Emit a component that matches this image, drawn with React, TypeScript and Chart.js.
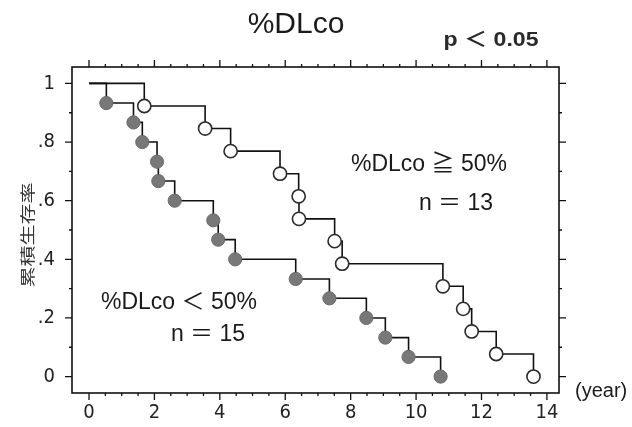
import React, { useEffect, useRef } from "react";
import { Chart, registerables } from "chart.js";

Chart.register(...registerables);

// ---- data ----
const HIGH_TIMES = [1.69, 3.55, 4.33, 5.84, 6.41, 6.42, 7.51, 7.74, 10.82, 11.44, 11.70, 12.45, 13.59];
const HIGH_SURV = [0.923, 0.846, 0.769, 0.692, 0.615, 0.538, 0.462, 0.385, 0.308, 0.231, 0.154, 0.077, 0];
const LOW_TIMES = [0.53, 1.36, 1.63, 2.08, 2.12, 2.62, 3.80, 3.95, 4.47, 6.32, 7.35, 8.48, 9.06, 9.77, 10.75];
const LOW_SURV = [0.933, 0.867, 0.8, 0.733, 0.667, 0.6, 0.533, 0.467, 0.4, 0.333, 0.267, 0.2, 0.133, 0.067, 0];
const START_TIME = 0;
const START_SURV = 1;

const X_TICKS = [0, 2, 4, 6, 8, 10, 12, 14];
const X_LABELS = ["0", "2", "4", "6", "8", "10", "12", "14"];
const Y_TICKS = [0, 0.2, 0.4, 0.6, 0.8, 1];
const Y_LABELS = ["0", ".2", ".4", ".6", ".8", "1"];

const TITLE = "%DLco";
const P_TEXT = "p \uFF1C 0.05";
const HIGH_LABEL = "%DLco \u2267 50%";
const HIGH_N = "n \uFF1D 13";
const LOW_LABEL = "%DLco \uFF1C 50%";
const LOW_N = "n \uFF1D 15";
const Y_TITLE = "累積生存率";
const X_UNIT = "(year)";

const TICK_FONT = "'Liberation Sans Narrow', 'Arial Narrow', 'DejaVu Sans Condensed', sans-serif";
const TEXT_FONT = "'Liberation Sans', Arial, 'Noto Sans CJK JP', sans-serif";

function series(times: number[], surv: number[]) {
  return [{ x: START_TIME, y: START_SURV }, ...times.map((t, i) => ({ x: t, y: surv[i] }))];
}

const decorPlugin = {
  id: "decor",
  afterDraw(chart: any) {
    const { ctx, chartArea: a, scales } = chart;
    const xs = scales.x;
    const ys = scales.y;
    ctx.save();
    ctx.strokeStyle = "#111";
    ctx.lineWidth = 1.6;
    ctx.strokeRect(a.left, a.top, a.right - a.left, a.bottom - a.top);
    ctx.lineWidth = 1.3;
    ctx.beginPath();
    for (let k = 0; k <= 28; k++) {
      const v = k * 0.5;
      const px = xs.getPixelForValue(v);
      const len = k % 4 === 0 ? 7 : 3;
      ctx.moveTo(px, a.bottom);
      ctx.lineTo(px, a.bottom + len);
      ctx.moveTo(px, a.top);
      ctx.lineTo(px, a.top - len);
    }
    for (let k = 0; k <= 10; k++) {
      const v = k * 0.1;
      const py = ys.getPixelForValue(v);
      const len = k % 2 === 0 ? 7 : 3;
      ctx.moveTo(a.left, py);
      ctx.lineTo(a.left - len, py);
      ctx.moveTo(a.right, py);
      ctx.lineTo(a.right + len, py);
    }
    ctx.stroke();

    ctx.fillStyle = "#1a1a1a";
    ctx.textAlign = "center";
    ctx.textBaseline = "middle";
    ctx.font = `30px ${TEXT_FONT}`;
    ctx.fillText(TITLE, 296, 25);

    ctx.save();
    ctx.translate(491, 40);
    ctx.scale(1.1, 1);
    ctx.font = `bold 21px ${TEXT_FONT}`;
    ctx.fillStyle = "#2a2a2a";
    ctx.fillText(P_TEXT, 0, 0);
    ctx.restore();

    ctx.font = `23px ${TEXT_FONT}`;
    ctx.fillText(HIGH_LABEL, 429, 165);
    ctx.fillText(HIGH_N, 456, 204);
    ctx.fillText(LOW_LABEL, 179, 303);
    ctx.fillText(LOW_N, 208, 335);
    ctx.textAlign = "left";
    ctx.font = `20px ${TEXT_FONT}`;
    ctx.fillText(X_UNIT, 575, 391);

    ctx.translate(27, 235);
    ctx.rotate(-Math.PI / 2);
    ctx.scale(1.4, 1);
    ctx.textAlign = "center";
    ctx.font = `15px 'Noto Sans CJK JP', sans-serif`;
    ctx.fillStyle = "#333";
    ctx.fillText(Y_TITLE, 0, 0);
    ctx.restore();
  },
};

export default function App() {
  const ref = useRef<HTMLCanvasElement | null>(null);
  useEffect(() => {
    if (!ref.current) return;
    const radius = (c: any) => (c.dataIndex === 0 ? 0 : 6.6);
    const chart = new Chart(ref.current, {
      type: "line",
      data: {
        datasets: [
          {
            label: "high",
            data: series(HIGH_TIMES, HIGH_SURV),
            stepped: "before",
            borderColor: "#111",
            borderWidth: 1.6,
            pointRadius: radius,
            pointBackgroundColor: "#ffffff",
            pointBorderColor: "#2a2a2a",
            pointBorderWidth: 1.6,
            fill: false,
          },
          {
            label: "low",
            data: series(LOW_TIMES, LOW_SURV),
            stepped: "before",
            borderColor: "#111",
            borderWidth: 1.6,
            pointRadius: radius,
            pointBackgroundColor: "#787878",
            pointBorderColor: "#6a6a6a",
            pointBorderWidth: 1,
            fill: false,
          },
        ],
      },
      options: {
        responsive: false,
        animation: false,
        layout: { padding: 0 },
        plugins: { legend: { display: false }, tooltip: { enabled: false }, title: { display: false } },
        scales: {
          x: {
            type: "linear",
            position: "bottom",
            min: -0.52,
            max: 14.37,
            afterBuildTicks: (s: any) => {
              s.ticks = X_TICKS.map((v) => ({ value: v }));
            },
            afterFit: (s: any) => {
              s.height = 34;
            },
            ticks: {
              autoSkip: false,
              maxRotation: 0,
              padding: 1,
              color: "#222",
              font: { family: TICK_FONT, size: 20 },
              callback: (_v: any, i: number) => X_LABELS[i],
            },
            grid: { display: true, drawOnChartArea: false, drawTicks: true, tickLength: 7, color: "rgba(0,0,0,0)" },
            border: { display: false },
          },
          x2: {
            type: "linear",
            position: "top",
            min: -0.52,
            max: 14.37,
            afterFit: (s: any) => {
              s.height = 67;
            },
            ticks: { display: false },
            grid: { display: false },
            border: { display: false },
          },
          y: {
            type: "linear",
            position: "left",
            min: -0.056,
            max: 1.056,
            afterBuildTicks: (s: any) => {
              s.ticks = Y_TICKS.map((v) => ({ value: v }));
            },
            afterFit: (s: any) => {
              s.width = 72;
            },
            ticks: {
              padding: 10,
              color: "#222",
              font: { family: TICK_FONT, size: 20 },
              callback: (_v: any, i: number) => Y_LABELS[i],
            },
            grid: { display: true, drawOnChartArea: false, drawTicks: true, tickLength: 7, color: "rgba(0,0,0,0)" },
            border: { display: false },
          },
          y2: {
            type: "linear",
            position: "right",
            min: -0.056,
            max: 1.056,
            afterFit: (s: any) => {
              s.width = 73;
            },
            ticks: { display: false },
            grid: { display: false },
            border: { display: false },
          },
        },
      },
      plugins: [decorPlugin],
    });
    return () => chart.destroy();
  }, []);
  return (
    <div style={{ position: "fixed", left: 0, top: 0, width: 632, height: 427, background: "#fff" }}>
      <canvas ref={ref} width={632} height={427} style={{ display: "block" }} />
    </div>
  );
}
